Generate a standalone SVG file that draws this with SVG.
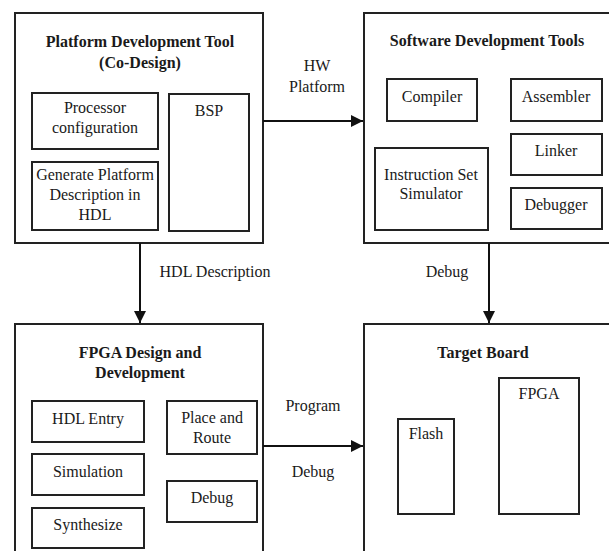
<svg xmlns="http://www.w3.org/2000/svg" width="609" height="551" viewBox="0 0 609 551">
<style>
.box{fill:#fff;stroke:#222;stroke-width:2}
.t{font-family:'Liberation Serif',Tinos,'DejaVu Serif',serif;font-size:16px;fill:#1a1a1a;text-anchor:middle}
.b{font-weight:bold}
.c{stroke:#111;stroke-width:2;fill:none}
</style>
<defs>
<marker id="ah" viewBox="0 0 12 12" refX="12" refY="6" markerWidth="12" markerHeight="12" markerUnits="userSpaceOnUse" orient="auto">
<path d="M0,0 L12,6 L0,12 z" fill="#111"/>
</marker>
</defs>
<rect width="609" height="551" fill="#fff"/>
<g id="platform">
<rect class="box" x="15" y="13" width="248" height="230"/>
<text class="t b" x="140" y="47">Platform Development Tool</text>
<text class="t b" x="140" y="68">(Co-Design)</text>
<rect class="box" x="32" y="93" width="126" height="56"/>
<text class="t" x="95" y="113">Processor</text>
<text class="t" x="95" y="133">configuration</text>
<rect class="box" x="32" y="162" width="126" height="68"/>
<text class="t" x="95" y="180">Generate Platform</text>
<text class="t" x="95" y="200">Description in</text>
<text class="t" x="95" y="220">HDL</text>
<rect class="box" x="169" y="94" width="80" height="137"/>
<text class="t" x="209" y="116">BSP</text>
</g>
<g id="software">
<rect class="box" x="364" y="13" width="255" height="230"/>
<text class="t b" x="487" y="46">Software Development Tools</text>
<rect class="box" x="387" y="79" width="90" height="42"/>
<text class="t" x="432" y="102">Compiler</text>
<rect class="box" x="511" y="79" width="91" height="42"/>
<text class="t" x="556" y="102">Assembler</text>
<rect class="box" x="511" y="134" width="91" height="41"/>
<text class="t" x="556" y="156">Linker</text>
<rect class="box" x="511" y="188" width="91" height="41"/>
<text class="t" x="556" y="210">Debugger</text>
<rect class="box" x="375" y="148" width="113" height="82"/>
<text class="t" x="431" y="180">Instruction Set</text>
<text class="t" x="431" y="199">Simulator</text>
</g>
<g id="fpga">
<rect class="box" x="15" y="324" width="248" height="240"/>
<text class="t b" x="140" y="358">FPGA Design and</text>
<text class="t b" x="140" y="378">Development</text>
<rect class="box" x="32" y="401" width="112" height="41"/>
<text class="t" x="88" y="424">HDL Entry</text>
<rect class="box" x="32" y="454" width="112" height="41"/>
<text class="t" x="88" y="477">Simulation</text>
<rect class="box" x="32" y="508" width="112" height="40"/>
<text class="t" x="88" y="530">Synthesize</text>
<rect class="box" x="167" y="401" width="90" height="53"/>
<text class="t" x="212" y="423">Place and</text>
<text class="t" x="212" y="443">Route</text>
<rect class="box" x="167" y="481" width="90" height="41"/>
<text class="t" x="212" y="503">Debug</text>
</g>
<g id="target">
<rect class="box" x="364" y="324" width="255" height="240"/>
<text class="t b" x="483" y="358">Target Board</text>
<rect class="box" x="398" y="419" width="56" height="95"/>
<text class="t" x="426" y="439">Flash</text>
<rect class="box" x="499" y="378" width="80" height="136"/>
<text class="t" x="539" y="399">FPGA</text>
</g>
<g id="connectors">
<line class="c" x1="263" y1="121" x2="363" y2="121" marker-end="url(#ah)"/>
<text class="t" x="317" y="71">HW</text>
<text class="t" x="317" y="92">Platform</text>
<line class="c" x1="140" y1="243" x2="140" y2="323" marker-end="url(#ah)"/>
<text class="t" x="215" y="277">HDL Description</text>
<line class="c" x1="489" y1="243" x2="489" y2="323" marker-end="url(#ah)"/>
<text class="t" x="447" y="277">Debug</text>
<line class="c" x1="263" y1="446" x2="363" y2="446" marker-end="url(#ah)"/>
<text class="t" x="313" y="411">Program</text>
<text class="t" x="313" y="477">Debug</text>
</g>
</svg>
